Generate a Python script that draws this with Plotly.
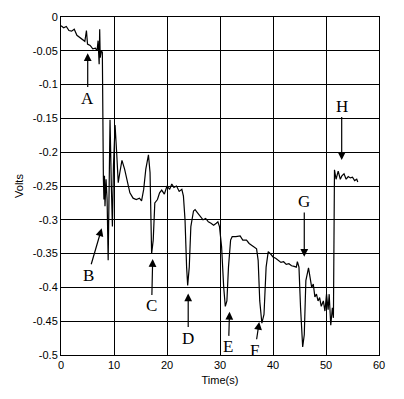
import plotly.graph_objects as go

time_s = [0, 0.5, 1.0, 1.5, 2.0, 2.5, 3.0, 3.5, 4.0, 4.5, 4.8, 5.0, 5.5, 6.0, 6.5, 6.8, 7.0, 7.2, 7.3, 7.4, 7.6, 7.8,
          8.0, 8.1, 8.2, 8.3, 8.5, 8.7, 8.9, 9.0, 9.25, 9.5, 9.7, 9.9, 10.2, 10.5, 10.8, 11.1, 11.5, 12.0, 12.5, 13.0,
          13.6, 14.2, 14.8, 15.2, 15.6, 16.0, 16.5, 16.8, 17.1, 17.4, 17.7, 18.2, 18.6, 19.0, 19.5, 20.0, 20.5, 20.9,
          21.3, 21.8, 22.3, 22.8, 23.1, 23.4, 23.7, 23.9, 24.2, 24.5, 25.0, 25.3, 25.8, 26.3, 26.8, 27.3, 27.8, 28.3,
          28.8, 29.3, 29.6, 29.9, 30.3, 30.7, 31.0, 31.3, 31.6, 32.0, 32.3, 33.0, 33.8, 34.3, 35.0, 35.5, 36.0, 36.5,
          36.9, 37.2, 37.5, 37.9, 38.3, 38.7, 39.1, 39.5, 40.0, 40.5, 41.0, 41.5, 42.0, 42.5, 43.0, 43.5, 44.0, 44.4,
          44.6, 44.9, 45.2, 45.6, 45.9, 46.2, 46.7, 47.0, 47.3, 47.6, 47.9, 48.2, 48.5, 48.8, 49.1, 49.5, 49.8, 50.1,
          50.4, 50.6, 50.9, 51.2, 51.4, 51.6, 51.9, 52.3, 52.7, 53.0, 53.4, 53.8, 54.2, 54.6, 55.0, 55.4, 55.8, 56.0]
volts = [-0.013, -0.016, -0.014, -0.020, -0.021, -0.018, -0.027, -0.030, -0.034, -0.036, -0.020, -0.040, -0.042,
         -0.047, -0.046, -0.050, -0.035, -0.070, -0.018, -0.060, -0.050, -0.052,
         -0.240, -0.270, -0.235, -0.280, -0.240, -0.270, -0.360, -0.280, -0.152, -0.250, -0.310, -0.220, -0.160,
         -0.200, -0.245, -0.230, -0.212, -0.225, -0.245, -0.260, -0.268, -0.270, -0.268, -0.272, -0.255, -0.225,
         -0.204, -0.230, -0.350, -0.330, -0.275, -0.270, -0.260, -0.256, -0.262, -0.250, -0.255, -0.247, -0.252,
         -0.250, -0.258, -0.255, -0.265, -0.300, -0.370, -0.397, -0.370, -0.310, -0.287, -0.285, -0.290, -0.295,
         -0.300, -0.298, -0.303, -0.305, -0.308, -0.305, -0.303, -0.310, -0.340, -0.400, -0.428, -0.420, -0.370,
         -0.330, -0.325, -0.325, -0.324, -0.330, -0.330, -0.335, -0.338, -0.340, -0.343, -0.360, -0.420, -0.453,
         -0.440, -0.370, -0.347, -0.350, -0.355, -0.357, -0.360, -0.363, -0.362, -0.366, -0.365, -0.368, -0.369,
         -0.370, -0.362, -0.370, -0.430, -0.488, -0.470, -0.390, -0.371, -0.385, -0.400, -0.395, -0.414, -0.410,
         -0.420, -0.415, -0.428, -0.420, -0.435, -0.410, -0.433, -0.410, -0.456, -0.430, -0.445, -0.226, -0.240,
         -0.228, -0.240, -0.235, -0.232, -0.240, -0.236, -0.238, -0.237, -0.242, -0.240, -0.244]

x_ticks = [0, 10, 20, 30, 40, 50, 60]
y_ticks = [0, -0.05, -0.1, -0.15, -0.2, -0.25, -0.3, -0.35, -0.4, -0.45, -0.5]
y_tick_text = ["0", "-0.05", "-0.1", "-0.15", "-0.2", "-0.25", "-0.3", "-0.35", "-0.4", "-0.45", "-0.5"]

# letter labels: arrow tip (t, v) and label centre (t, v)
labels = ["A", "B", "C", "D", "E", "F", "G", "H"]
tip_t = [5.04, 7.68, 17.3, 24.0, 31.8, 37.4, 45.9, 52.96]
tip_v = [-0.0537, -0.3126, -0.358, -0.409, -0.436, -0.451, -0.3546, -0.2115]
lab_t = [5.04, 5.1, 17.1, 24.0, 31.6, 36.6, 45.9, 52.96]
lab_v = [-0.120, -0.382, -0.4275, -0.475, -0.488, -0.493, -0.273, -0.1317]

fig = go.Figure()
fig.add_trace(go.Scatter(x=time_s, y=volts, mode="lines",
                         line=dict(color="black", width=1.2), showlegend=False))

anns = []
for L, tx, ty, lx, ly in zip(labels, tip_t, tip_v, lab_t, lab_v):
    anns.append(dict(x=tx, y=ty, ax=lx, ay=ly, axref="x", ayref="y", xref="x", yref="y",
                     text=L, showarrow=True, arrowhead=2, arrowsize=1.3, arrowwidth=1.2,
                     arrowcolor="black", standoff=0, startstandoff=0,
                     font=dict(family="Liberation Serif, Times New Roman, serif", size=17, color="black")))

fig.update_layout(
    width=396, height=391,
    margin=dict(l=53, r=25, t=9, b=44),
    paper_bgcolor="white", plot_bgcolor="white",
    font=dict(family="Liberation Sans, Arial, sans-serif", size=11, color="black"),
    annotations=anns,
    xaxis=dict(range=[0, 60], tickvals=x_ticks, showgrid=True, gridcolor="black", gridwidth=1,
               showline=True, linecolor="black", linewidth=1, mirror=True, zeroline=False,
               ticks="", automargin=False,
               title=dict(text="Time(s)", font=dict(size=11), standoff=6)),
    yaxis=dict(range=[-0.5, 0], tickvals=y_ticks, ticktext=y_tick_text, showgrid=True,
               gridcolor="black", gridwidth=1, showline=True, linecolor="black", linewidth=1,
               mirror=True, zeroline=False, ticks="", automargin=False,
               title=dict(text="Volts", font=dict(size=11), standoff=6)),
)

fig.write_html("out.html")
